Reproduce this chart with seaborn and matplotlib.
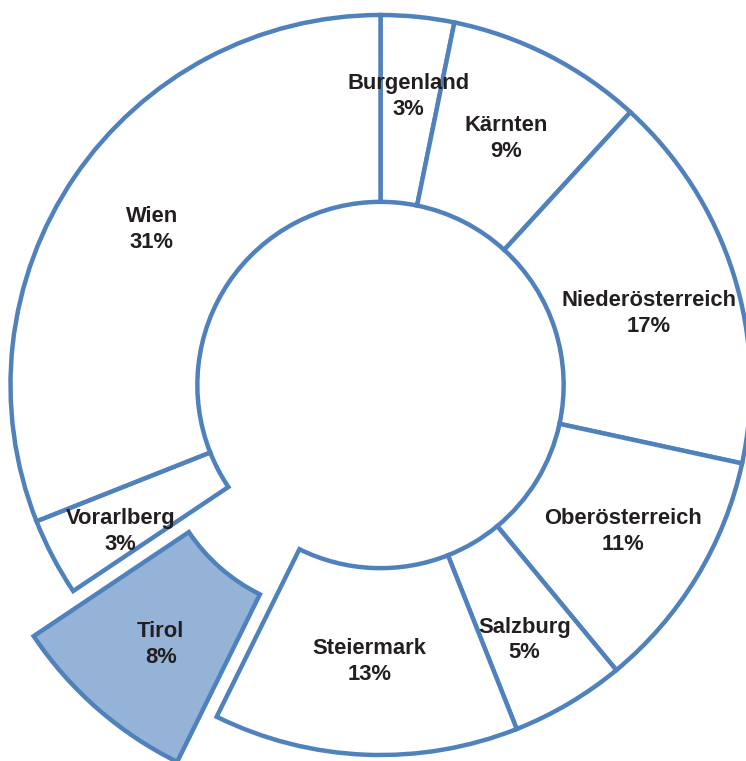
import numpy as np
import matplotlib
matplotlib.use("Agg")
import matplotlib.pyplot as plt
import seaborn as sns

# Data (share of total, %)
regions = ["Burgenland", "Kärnten", "Niederösterreich", "Oberösterreich",
           "Salzburg", "Steiermark", "Tirol", "Vorarlberg", "Wien"]
shares = [3.2, 8.6, 16.6, 10.6, 5.0, 13.3, 8.3, 3.4, 31.0]
pct_labels = ["3%", "9%", "17%", "11%", "5%", "13%", "8%", "3%", "31%"]
highlight = "Tirol"

# small label nudges in pixels (dx right, dy up), layout only
label_nudge_px = {"Burgenland": (0, 13), "Niederösterreich": (5, -12),
                  "Oberösterreich": (6, -3), "Salzburg": (3, -17),
                  "Vorarlberg": (-15, -18), "Tirol": (2, -6)}

sns.set_theme(style="white")
plt.rcParams["font.family"] = ["Liberation Sans", "DejaVu Sans"]

W, H = 746, 761
fig = plt.figure(figsize=(W / 100, H / 100), dpi=100)
ax = fig.add_axes([0, 0, 1, 1])

edge = "#4F81BD"
fills = ["#95B3D7" if r == highlight else "white" for r in regions]
explode = [0.162 if r == highlight else 0.0 for r in regions]
ring_w = 0.505
r_px = 370.0

wedges, _ = ax.pie(shares, startangle=90, counterclock=False, colors=fills,
                   explode=explode, radius=1.0,
                   wedgeprops=dict(width=ring_w, edgecolor=edge, linewidth=3.2,
                                   joinstyle="miter"))

mid_r = 1.0 - ring_w / 2
for w, name, pl in zip(wedges, regions, pct_labels):
    ang = np.deg2rad((w.theta1 + w.theta2) / 2)
    cx, cy = w.center
    dx, dy = label_nudge_px.get(name, (0, 0))
    ax.text(cx + mid_r * np.cos(ang) + dx / r_px, cy + mid_r * np.sin(ang) + dy / r_px,
            f"{name}\n{pl}", ha="center", va="center", fontsize=15.8,
            fontweight="bold", color="#231f20", linespacing=1.3)

# place pie: centre at pixel (380.5, 385), outer radius 370 px
cx_px, cy_px = 380.5, 385.0
ax.set_xlim(-cx_px / r_px, (W - cx_px) / r_px)
ax.set_ylim(-(H - cy_px) / r_px, cy_px / r_px)
ax.set_aspect("auto")
ax.axis("off")

fig.savefig("out.png", dpi=100, facecolor="white")
